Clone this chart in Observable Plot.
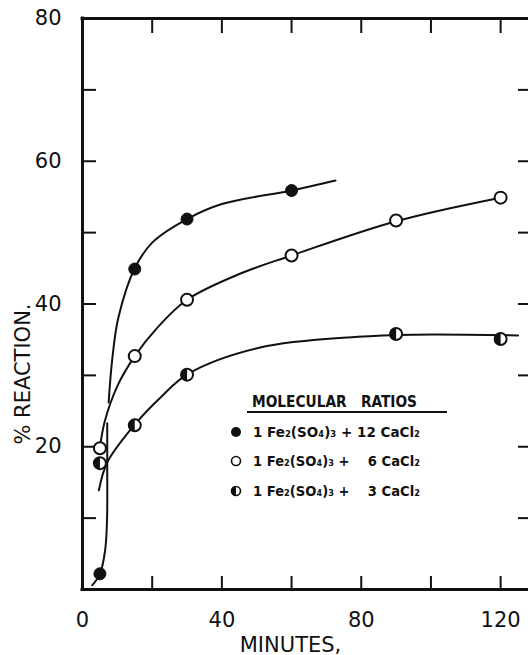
<!DOCTYPE html>
<html>
<head>
<meta charset="utf-8">
<script src="https://cdn.jsdelivr.net/npm/d3@7"></script>
<script src="https://cdn.jsdelivr.net/npm/@observablehq/plot@0.6"></script>
<style>
  html, body { margin: 0; padding: 0; background: #fff; }
  #chart { width: 528px; height: 655px; position: relative; }
</style>
</head>
<body>
<div id="chart"></div>
<script>
// ---- data ----
const minutes12 = [5, 15, 30, 60];
const reaction12 = [2.2, 44.9, 51.9, 55.9];
const minutes6 = [5, 15, 30, 60, 90, 120];
const reaction6 = [19.8, 32.7, 40.6, 46.8, 51.7, 54.9];
const minutes3 = [5, 15, 30, 90, 120];
const reaction3 = [17.7, 23.0, 30.1, 35.8, 35.1];

// hand-drawn smooth curves
const fit12aMinutes = [2.8, 5, 6.5, 7.05, 7.1, 7.1];
const fit12aReaction = [0.6, 2.2, 5.5, 10, 17, 23.3];
const fit12bMinutes = [7.5, 8.5, 10.3, 15, 20, 30, 40, 60, 72.6];
const fit12bReaction = [26.2, 32.1, 38.1, 45, 48.6, 51.9, 54, 55.9, 57.3];
const fit6Minutes = [5, 6.3, 10, 15, 21.5, 30, 45, 60, 90, 120];
const fit6Reaction = [19.8, 23.4, 28.5, 32.7, 36.7, 40.6, 44.2, 46.8, 51.6, 54.9];
const fit3Minutes = [4.7, 7.1, 15, 22.4, 30.3, 51, 79, 95, 125];
const fit3Reaction = [13.9, 17.8, 23.1, 26.9, 30.2, 33.9, 35.4, 35.7, 35.6];

const xTickLabels = [0, 40, 80, 120];
const xTickMarks = [20, 40, 60, 80, 100, 120];
const yTickLabels = [20, 40, 60, 80];
const yTickMarks = [10, 20, 30, 40, 50, 60, 70];

const seriesNames = ["1 Fe\u2082(SO\u2084)\u2083 + 12 CaCl\u2082",
                     "1 Fe\u2082(SO\u2084)\u2083 + \u2007 6 CaCl\u2082",
                     "1 Fe\u2082(SO\u2084)\u2083 + \u2007 3 CaCl\u2082"];
const legendTitle = "MOLECULAR   RATIOS";
const xLabel = "MINUTES,";
const yLabel = "% REACTION.";

// ---- build tables ----
const zip = (xs, ys) => xs.map((x, i) => ({x, y: ys[i]}));
const pts12 = zip(minutes12, reaction12);
const pts6 = zip(minutes6, reaction6);
const pts3 = zip(minutes3, reaction3);
const curves = [
  ...zip(fit12aMinutes, fit12aReaction).map(d => ({...d, k: "12a"})),
  ...zip(fit12bMinutes, fit12bReaction).map(d => ({...d, k: "12b"})),
  ...zip(fit6Minutes, fit6Reaction).map(d => ({...d, k: "6"})),
  ...zip(fit3Minutes, fit3Reaction).map(d => ({...d, k: "3"}))
];

// left-half filled circle symbol
const halfLeft = {
  draw(context, size) {
    const r = Math.sqrt(size / Math.PI);
    context.moveTo(0, -r);
    context.arc(0, 0, r, -Math.PI / 2, Math.PI / 2, true);
    context.closePath();
  }
};

const W = 528, H = 655;
const mL = 82, mT = 18, mB = 66, mR = 0;
const pw = W - mL - mR, ph = H - mT - mB;
const FONT = "DejaVu Sans";

const svg = Plot.plot({
  width: W, height: H,
  marginLeft: mL, marginTop: mT, marginBottom: mB, marginRight: mR,
  style: {fontFamily: FONT, background: "#fff", color: "#111"},
  x: {domain: [0, 128], axis: null},
  y: {domain: [0, 80], axis: null},
  marks: [
    // tick labels
    Plot.axisX(xTickLabels, {tickSize: 0, tickPadding: 23, fontSize: 21, label: null}),
    Plot.axisY(yTickLabels, {tickSize: 0, tickPadding: 21, fontSize: 21, label: null}),
    // tick marks (inward)
    Plot.tickY(yTickMarks, {y: d => d, insetRight: pw - 14, strokeWidth: 2, stroke: "#111"}),
    Plot.tickY(yTickMarks, {y: d => d, insetLeft: pw - 10, strokeWidth: 2, stroke: "#111"}),
    Plot.tickX(xTickMarks, {x: d => d, insetTop: ph - 13, strokeWidth: 2, stroke: "#111"}),
    Plot.tickX(xTickMarks, {x: d => d, insetBottom: ph - 15, strokeWidth: 2, stroke: "#111"}),
    // frame
    Plot.ruleY([0, 80], {strokeWidth: 3, stroke: "#111", strokeLinecap: "square"}),
    Plot.ruleX([0], {strokeWidth: 3, stroke: "#111", strokeLinecap: "square"}),
    // fitted curves
    Plot.line(curves, {x: "x", y: "y", z: "k", curve: "catmull-rom", stroke: "#111", strokeWidth: 2}),
    // points
    Plot.dot(pts12, {x: "x", y: "y", r: 6, fill: "#111", stroke: "#111", strokeWidth: 1}),
    Plot.dot(pts6, {x: "x", y: "y", r: 6, fill: "#fff", stroke: "#111", strokeWidth: 2}),
    Plot.dot(pts3, {x: "x", y: "y", r: 6, fill: "#fff", stroke: "#111", strokeWidth: 2}),
    Plot.dot(pts3, {x: "x", y: "y", r: 6, symbol: halfLeft, fill: "#111", stroke: "none"}),
    // axis titles
    Plot.text([yLabel], {text: d => d, frameAnchor: "left", dx: -59, dy: 70, rotate: -90,
      fontSize: 21, textAnchor: "middle", lineAnchor: "middle", fill: "#111"}),
    Plot.text([xLabel], {text: d => d, frameAnchor: "bottom", dx: -15, dy: 62,
      fontSize: 21, textAnchor: "middle", lineAnchor: "bottom", fill: "#111"})
  ]
});

// ---- legend inside the plot ----
const g = d3.select(svg).append("g").attr("font-family", FONT).attr("fill", "#111")
  .attr("text-anchor", "start");
g.append("text").attr("x", 252).attr("y", 407).attr("font-size", 15)
  .attr("font-family", "DejaVu Sans Condensed, DejaVu Sans")
  .attr("font-weight", "bold")
  .attr("text-anchor", "start")
  .attr("textLength", 165).attr("lengthAdjust", "spacingAndGlyphs")
  .style("white-space", "pre")
  .text(legendTitle);
g.append("line").attr("x1", 247).attr("x2", 447).attr("y1", 412).attr("y2", 412)
  .attr("stroke", "#111").attr("stroke-width", 2);
const rowY = [432, 461, 491];
seriesNames.forEach((name, i) => {
  const cy = rowY[i];
  if (i === 0) {
    g.append("circle").attr("cx", 236).attr("cy", cy).attr("r", 5).attr("fill", "#111");
  } else {
    g.append("circle").attr("cx", 236).attr("cy", cy).attr("r", 4.5)
      .attr("fill", "#fff").attr("stroke", "#111").attr("stroke-width", 1.6);
    if (i === 2) {
      g.append("path").attr("d", `M236,${cy - 5} A5,5 0 0 0 236,${cy + 5} Z`).attr("fill", "#111");
    }
  }
  g.append("text").attr("x", 253).attr("y", cy + 5).attr("font-size", 14)
    .attr("font-weight", "600")
    .attr("text-anchor", "start")
    .attr("textLength", 167).attr("lengthAdjust", "spacingAndGlyphs")
    .style("white-space", "pre").text(name);
});

document.getElementById("chart").appendChild(svg);
</script>
</body>
</html>
